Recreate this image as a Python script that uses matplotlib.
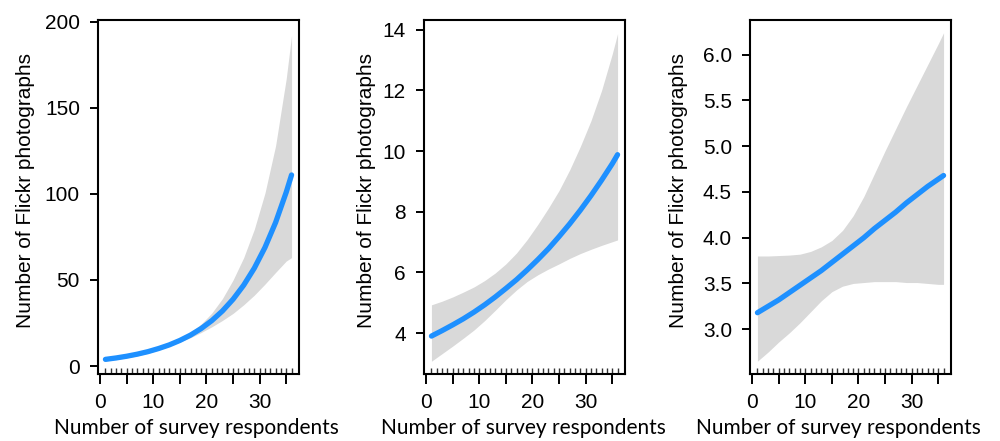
import matplotlib
matplotlib.use("Agg")
import matplotlib.pyplot as plt
from matplotlib.ticker import FixedLocator

x_fit = [1, 3, 5, 7, 9, 11, 13, 15, 17, 19, 21, 23, 25, 27, 29, 31, 33, 35, 36]

# panel 1
fit1 = [3.9, 4.72, 5.72, 6.93, 8.39, 10.2, 12.3, 14.9, 18.0, 21.8, 26.4, 32.0,
        38.8, 47.0, 56.9, 68.9, 83.4, 101, 111]
upper1 = [5.0, 5.9, 6.85, 8.05, 9.46, 11.2, 13.2, 15.9, 19.6, 24.4, 30.8, 39.2,
          50.0, 63.0, 79.5, 100.5, 128, 167, 192]
lower1 = [3.04, 3.79, 4.78, 5.96, 7.44, 9.32, 11.5, 14.0, 16.5, 19.5, 22.8, 26.5,
          30.6, 35.6, 41.2, 47.6, 54.4, 61.0, 63]

# panel 2
fit2 = [3.9, 4.08, 4.27, 4.47, 4.69, 4.93, 5.19, 5.47, 5.76, 6.08, 6.42, 6.78,
        7.18, 7.6, 8.05, 8.53, 9.04, 9.58, 9.88]
upper2 = [4.93, 5.05, 5.19, 5.35, 5.52, 5.73, 5.98, 6.28, 6.64, 7.08, 7.58, 8.12,
          8.7, 9.38, 10.15, 11.0, 12.0, 13.2, 13.87]
lower2 = [3.07, 3.32, 3.57, 3.83, 4.1, 4.41, 4.75, 5.1, 5.42, 5.7, 5.92, 6.11,
          6.28, 6.46, 6.62, 6.76, 6.89, 7.01, 7.07]

# panel 3
fit3 = [3.18, 3.25, 3.32, 3.4, 3.48, 3.56, 3.64, 3.73, 3.82, 3.91, 4.0, 4.1,
        4.19, 4.28, 4.38, 4.47, 4.56, 4.64, 4.68]
upper3 = [3.8, 3.8, 3.805, 3.81, 3.82, 3.85, 3.9, 3.97, 4.08, 4.24, 4.45, 4.7,
          4.95, 5.19, 5.43, 5.66, 5.89, 6.12, 6.24]
lower3 = [2.65, 2.75, 2.86, 2.96, 3.07, 3.19, 3.31, 3.41, 3.47, 3.5, 3.51, 3.52,
          3.52, 3.52, 3.51, 3.51, 3.5, 3.49, 3.49]

# rug: observed numbers of survey respondents
respondents = [1, 2, 3, 4, 5, 6, 7, 8, 9, 10, 11, 12, 13, 14, 15, 16, 17, 18,
               19, 20, 21, 22, 23, 24, 25, 26, 27, 28, 29, 30, 31, 32, 33, 34, 35, 36]

x_ticks = [0, 5, 10, 15, 20, 25, 30, 35]
x_ticklabels = ["0", "", "10", "", "20", "", "30", ""]

yticks1 = [0, 50, 100, 150, 200]
yticks2 = [4, 6, 8, 10, 12, 14]
yticks3 = [3.0, 3.5, 4.0, 4.5, 5.0, 5.5, 6.0]

ylabel = "Number of Flickr photographs"
xlabel = "Number of survey respondents"

W, H = 1000, 441
fig = plt.figure(figsize=(W / 100, H / 100), dpi=100)

panels = [
    (98, fit1, upper1, lower1, yticks1, ["0", "50", "100", "150", "200"], (-4.6, 201), 26, 196),
    (424, fit2, upper2, lower2, yticks2, ["4", "6", "8", "10", "12", "14"], (2.65, 14.32), 366, 523),
    (750, fit3, upper3, lower3, yticks3, ["3.0", "3.5", "4.0", "4.5", "5.0", "5.5", "6.0"], (2.51, 6.38), 679, 838),
]

for left, fit, upper, lower, yt, ytl, ylim, ylab_x, xlab_x in panels:
    ax = fig.add_axes([left / W, (H - 374) / H, 201 / W, 354 / H])
    ax.fill_between(x_fit, lower, upper, color="#d9d9d9", linewidth=0)
    ax.plot(x_fit, fit, color="#1e90ff", linewidth=3.8, solid_capstyle="round",
            solid_joinstyle="round")
    ax.set_xlim(-0.4, 37.4)
    ax.set_ylim(*ylim)

    ax.set_xticks(x_ticks)
    ax.set_xticklabels(x_ticklabels)
    ax.xaxis.set_minor_locator(FixedLocator(respondents))
    ax.xaxis.remove_overlapping_locs = False
    ax.tick_params(axis="x", which="major", direction="out", length=7.5, width=1.4,
                   pad=6, labelsize=15, color="black")
    ax.tick_params(axis="x", which="minor", direction="in", length=4.5, width=1.0,
                   color="#333333")
    ax.set_yticks(yt)
    ax.set_yticklabels(ytl)
    ax.tick_params(axis="y", direction="out", length=6, width=1.4, pad=7, labelsize=15)
    for lab in ax.get_xticklabels() + ax.get_yticklabels():
        lab.set_fontfamily("Liberation Sans")
    for sp in ax.spines.values():
        sp.set_linewidth(1.5)

    fig.text(ylab_x / W, (H - 191) / H, ylabel, rotation=90, ha="center", va="center",
             fontsize=15, family="Liberation Sans")
    fig.text(xlab_x / W, (H - 428) / H, xlabel, ha="center", va="center",
             fontsize=15, family="Lato")

fig.savefig("out.png", dpi=100)
